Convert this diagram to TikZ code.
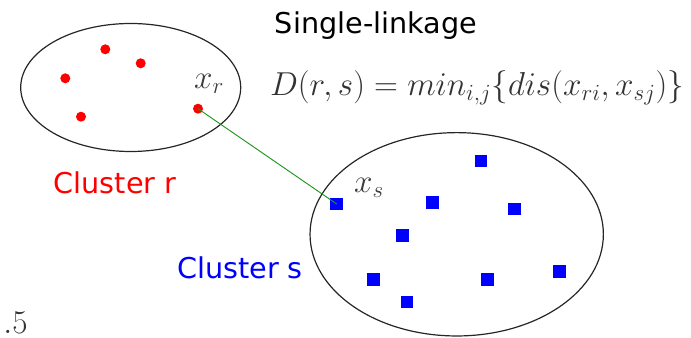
\documentclass[tikz,border=0pt]{standalone}
\usepackage[no-math]{fontspec}
\usetikzlibrary{shapes.geometric}
\newfontfamily\lblfont{DejaVu Sans}
\definecolor{linkgreen}{RGB}{30,150,30}
\definecolor{mathgray}{RGB}{60,60,60}
\tikzset{
  dotr/.style={circle, fill=red, inner sep=0pt, minimum size=7.5pt},
  sqb/.style={rectangle, fill=blue, inner sep=0pt, minimum size=9.5pt},
  clus/.style={draw=black!85, ellipse, line width=0.9pt, inner sep=0pt},
  lbl/.style={font=\lblfont\fontsize{21.5}{26}\selectfont, inner sep=0pt},
  mlbl/.style={text=mathgray, font=\fontsize{24}{28}\selectfont, inner sep=0pt},
  link/.style={draw=linkgreen, line width=0.7pt}
}
\begin{document}
\begin{tikzpicture}[x=0.75pt, y=-0.75pt]
\useasboundingbox (0,0) rectangle (691,338);
% clusters
\node[clus, minimum width=165pt, minimum height=96pt] (cr) at (130.7,87.5) {};
\node[clus, minimum width=220pt, minimum height=152.5pt] (cs) at (456.7,234.3) {};
% red points
\node[dotr] (r1) at (105.3,49.3) {};
\node[dotr] (r2) at (140.7,63.3) {};
\node[dotr] (r3) at (65.3,78.3) {};
\node[dotr] (r4) at (81,116.7) {};
\node[dotr] (xr) at (198,108.7) {};
% blue points
\node[sqb] (s1) at (481,161) {};
\node[sqb] (xs) at (336.7,204) {};
\node[sqb] (s3) at (432.7,202.7) {};
\node[sqb] (s4) at (514.7,209) {};
\node[sqb] (s5) at (402.7,235.7) {};
\node[sqb] (s6) at (373.7,279.7) {};
\node[sqb] (s7) at (487.3,279.7) {};
\node[sqb] (s8) at (559.3,271.7) {};
\node[sqb] (s9) at (407,302) {};
% link
\draw[link] (xr.center) -- (xs.center);
% labels
\node[mlbl] (lxr) at (209,84) {$x_r$};
\node[mlbl] (lxs) at (369,188) {$x_s$};
\node[lbl, text=black] (title) at (376,26) {Single-linkage};
\node[mlbl, text=black!80] (form) at (477,88) {$D(r,s)=min_{i,j}\{dis(x_{ri},x_{sj})\}$};
\node[lbl, text=red] (lr) at (115,183) {Cluster r};
\node[lbl, text=blue] (ls) at (240,268) {Cluster s};
\node[mlbl, text=black!80, anchor=west] (p5) at (3,323) {$.5$};
\end{tikzpicture}
\end{document}
